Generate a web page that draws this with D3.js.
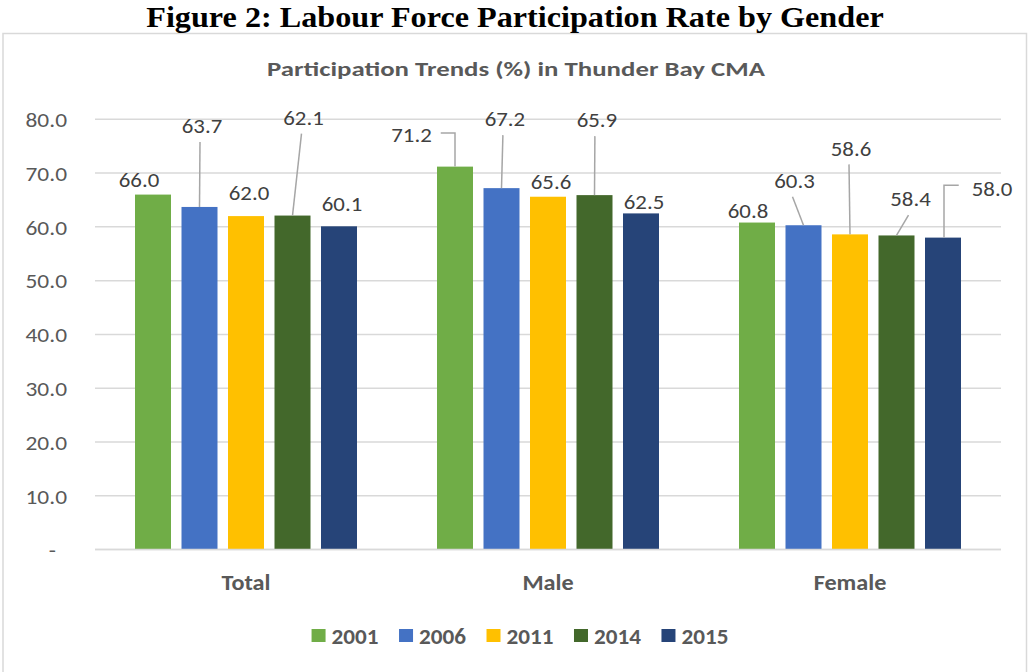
<!DOCTYPE html>
<html>
<head>
<meta charset="utf-8">
<script src="https://cdn.jsdelivr.net/npm/d3@7"></script>
<style>
  html, body { margin: 0; padding: 0; background: #fff; }
  svg { display: block; }
</style>
</head>
<body>
<svg id="chart" width="1030" height="672"></svg>
<script>
// ---------------- data ----------------
const categories = ["Total", "Male", "Female"];
const years = ["2001", "2006", "2011", "2014", "2015"];
const values2001 = [66.0, 71.2, 60.8];
const values2006 = [63.7, 67.2, 60.3];
const values2011 = [62.0, 65.6, 58.6];
const values2014 = [62.1, 65.9, 58.4];
const values2015 = [60.1, 62.5, 58.0];
const yTicks = [0, 10, 20, 30, 40, 50, 60, 70, 80];
const figureTitle = "Figure 2: Labour Force Participation Rate by Gender";
const chartTitle = "Participation Trends (%) in Thunder Bay CMA";

const seriesValues = [values2001, values2006, values2011, values2014, values2015];

// ---------------- styling / layout ----------------
const colors = ["#70ad47", "#4472c4", "#ffc000", "#43682b", "#264478"];
// label placement (pixel offset of label centre from bar-top centre) and leader style,
// indexed [category][year]
const labelLayout = [
  [{dx:-14,dy:-15,l:"none"},{dx:2.5,dy:-81,l:"bottom"},{dx:3,dy:-23,l:"none"},{dx:11,dy:-98,l:"bottom"},{dx:3,dy:-23,l:"none"}],
  [{dx:-43.5,dy:-31.5,l:"right"},{dx:3.4,dy:-69,l:"bottom"},{dx:3,dy:-15,l:"none"},{dx:2.4,dy:-75,l:"bottom"},{dx:3,dy:-11.6,l:"none"}],
  [{dx:-9,dy:-12.4,l:"none"},{dx:-9,dy:-44.4,l:"bottom"},{dx:1,dy:-86,l:"bottom"},{dx:14,dy:-36.4,l:"bottom"},{dx:49,dy:-49.4,l:"left"}]
];

const FONT = "Carlito, Calibri, Lato, 'Open Sans', sans-serif";
const svg = d3.select("#chart");

// measure helper: horizontal scale factor so `str` at given style has target width
const meas = svg.append("text").attr("x", -1000).attr("y", -1000);
function stretchFor(str, family, weight, size, target) {
  meas.style("font-family", family).style("font-weight", weight).style("font-size", size + "px").text(str);
  return target / meas.node().getComputedTextLength();
}

// chart frame
svg.append("rect")
  .attr("x", 3).attr("y", 33.5).attr("width", 1023.5).attr("height", 660)
  .attr("fill", "#fff").attr("stroke", "#d9d9d9").attr("stroke-width", 1.5);

// figure title
const SERIF = "'Liberation Serif', 'Times New Roman', serif";
const kFig = stretchFor(figureTitle, SERIF, "bold", 29, 738);
svg.append("text")
  .attr("transform", `translate(515,27) scale(${kFig},1)`)
  .attr("text-anchor", "middle")
  .style("font-family", SERIF).style("font-weight", "bold").style("font-size", "29px")
  .attr("fill", "#000")
  .text(figureTitle);

// chart title
const kTitle = stretchFor(chartTitle, FONT, "bold", 21, 498);
svg.append("text")
  .attr("transform", `translate(516,75.5) scale(${kTitle},1)`)
  .attr("text-anchor", "middle")
  .style("font-family", FONT).style("font-weight", "bold").style("font-size", "21px")
  .attr("fill", "#595959")
  .text(chartTitle);

// scales
const x0 = d3.scaleBand().domain(categories).range([95, 1001]).paddingInner(0).paddingOuter(0);
const x1 = d3.scaleBand().domain(years).range([40, x0.bandwidth() - 40]).paddingInner(0.2258).paddingOuter(0);
const y = d3.scaleLinear().domain([0, 80]).range([549.5, 119.3]);

// gridlines
svg.append("g").selectAll("line").data(yTicks).join("line")
  .attr("x1", 95).attr("x2", 1001)
  .attr("y1", d => y(d)).attr("y2", d => y(d))
  .attr("stroke", "#d9d9d9").attr("stroke-width", 1.5);

// y axis labels
const kNum = stretchFor("80.0", FONT, "normal", 21, 41.5);
const yAxis = d3.axisLeft(y).tickValues(yTicks).tickSize(0).tickPadding(0)
  .tickFormat(d => d === 0 ? "-" : d3.format(".1f")(d));
const yg = svg.append("g").attr("transform", "translate(67,0)").call(yAxis);
yg.select(".domain").remove();
yg.selectAll("text")
  .style("font-family", FONT).style("font-size", "21px").attr("fill", "#595959")
  .attr("x", 0).attr("dy", "0.35em")
  .attr("dx", d => d === 0 ? -11 / kNum : 0)
  .attr("transform", `scale(${kNum},1)`);

// x axis labels
const kCat = stretchFor("Total", FONT, "bold", 23, 49);
const xAxis = d3.axisBottom(x0).tickSize(0).tickPadding(0);
const xg = svg.append("g").attr("transform", "translate(0,581.5)").call(xAxis);
xg.select(".domain").remove();
xg.selectAll("text")
  .style("font-family", FONT).style("font-weight", "bold").style("font-size", "23px")
  .attr("fill", "#595959").attr("dy", "0.35em").attr("y", 0)
  .attr("transform", `scale(${kCat},1)`);

// bars
const rows = [];
categories.forEach((c, ci) => years.forEach((yr, si) => {
  rows.push({c, ci, yr, si, v: seriesValues[si][ci], lay: labelLayout[ci][si]});
}));

svg.append("g").selectAll("rect").data(rows).join("rect")
  .attr("x", d => x0(d.c) + x1(d.yr))
  .attr("y", d => y(d.v))
  .attr("width", x1.bandwidth())
  .attr("height", d => y(0) - y(d.v))
  .attr("fill", d => colors[d.si]);

// baseline
svg.append("line").attr("x1", 95).attr("x2", 1001).attr("y1", y(0)).attr("y2", y(0))
  .attr("stroke", "#d9d9d9").attr("stroke-width", 1.5);

// data labels
const kLab = stretchFor("63.7", FONT, "normal", 21, 40.5);
const lg = svg.append("g");
rows.forEach(d => {
  const bx = x0(d.c) + x1(d.yr) + x1.bandwidth() / 2;
  const by = y(d.v);
  const lx = bx + d.lay.dx, ly = by + d.lay.dy;
  const t = lg.append("text")
    .attr("transform", `translate(${lx},${ly}) scale(${kLab},1)`)
    .attr("dy", "0.35em")
    .attr("text-anchor", "middle")
    .style("font-family", FONT).style("font-size", "21px")
    .attr("fill", "#404040")
    .text(d3.format(".1f")(d.v));
  const w = t.node().getComputedTextLength() * kLab;
  let pts = null;
  if (d.lay.l === "bottom") pts = [[lx - 2, ly + 16], [bx, by]];
  if (d.lay.l === "right") pts = [[lx + w / 2 + 9, ly - 2], [bx, ly - 2], [bx, by]];
  if (d.lay.l === "left") pts = [[lx - w / 2 - 13, ly - 3], [bx + 1, ly - 3], [bx + 1, by]];
  if (pts) {
    lg.append("path")
      .attr("d", d3.line()(pts))
      .attr("fill", "none").attr("stroke", "#a6a6a6").attr("stroke-width", 1.5);
  }
});

// legend
const kLeg = stretchFor("2001", FONT, "bold", 23, 47);
const leg = svg.append("g");
let cx = 0;
const items = [];
years.forEach((yr, i) => {
  const g = leg.append("g");
  g.append("rect").attr("x", 0).attr("y", -6.5).attr("width", 14).attr("height", 13).attr("fill", colors[i]);
  const t = g.append("text")
    .attr("transform", `translate(20,0) scale(${kLeg},1)`)
    .attr("dy", "0.35em")
    .style("font-family", FONT).style("font-weight", "bold").style("font-size", "23px")
    .attr("fill", "#595959").text(yr);
  const w = 20 + t.node().getComputedTextLength() * kLeg;
  items.push({g, x: cx});
  cx += w + 20.5;
});
const total = cx - 20.5;
const startX = 520 - total / 2;
items.forEach(it => it.g.attr("transform", `translate(${startX + it.x},635.5)`));
meas.remove();
</script>
</body>
</html>
